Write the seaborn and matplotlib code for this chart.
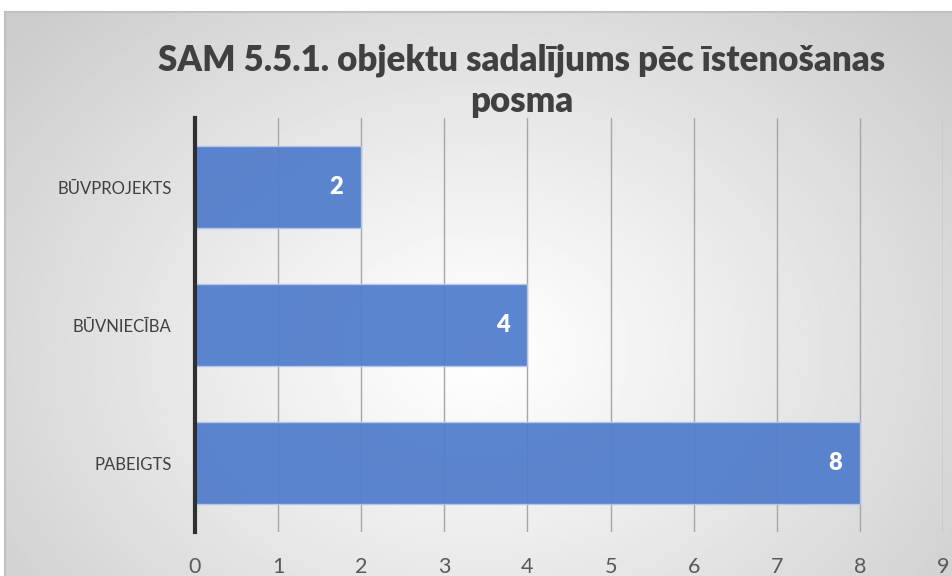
import numpy as np
import seaborn as sns
import matplotlib.pyplot as plt

# chart data
categories = ['BŪVPROJEKTS', 'BŪVNIECĪBA', 'PABEIGTS']
values = [2, 4, 8]
x_ticks = list(range(0, 10))
title = 'SAM 5.5.1. objektu sadalījums pēc īstenošanas\nposma'

sns.set_style('white')
plt.rcParams['font.family'] = ['Lato', 'DejaVu Sans']

W, H = 952, 576
fig = plt.figure(figsize=(W / 100, H / 100), dpi=100)

# radial gradient background (chart area)
bg = fig.add_axes([5 / W, 0, (W - 5) / W, (H - 12) / H], zorder=0)
yy, xx = np.mgrid[0:1:300j, 0:1:500j]
r = np.sqrt(((xx - 0.5) / 0.5) ** 2 + ((yy - 0.4) / 0.65) ** 2)
shade = 1.0 - 0.2 * np.clip(r / 1.3, 0, 1) ** 1.1
bg.imshow(shade, cmap='gray', vmin=0, vmax=1, aspect='auto', extent=[0, 1, 0, 1], origin='lower')
bg.set_xticks([])
bg.set_yticks([])
for side in ['right', 'bottom']:
    bg.spines[side].set_visible(False)
for side in ['top', 'left']:
    bg.spines[side].set_color('#c0c0c0')
    bg.spines[side].set_linewidth(1.5)

ax = fig.add_axes([195 / W, 1 - 532 / H, (943 - 195) / W, (532 - 118) / H], zorder=1)
ax.patch.set_alpha(0)

sns.barplot(x=values, y=categories, orient='h', color='#4f7ccb', width=0.6,
            edgecolor='#b4c8ea', linewidth=1, alpha=0.93, saturation=1, ax=ax, zorder=2)

ax.set_xlim(0, 9)
ax.set_ylim(2.5, -0.5)
ax.set_xticks(x_ticks)
ax.grid(axis='x', color='#a6a6a6', linewidth=1, zorder=1)
ax.grid(axis='y', visible=False)
ax.set_axisbelow(True)
ax.set_xlabel('')
ax.set_ylabel('')

for side in ['top', 'right', 'bottom']:
    ax.spines[side].set_visible(False)
ax.spines['left'].set_color('#303030')
ax.spines['left'].set_linewidth(3)
ax.spines['left'].set_zorder(5)

ax.tick_params(axis='x', length=0, pad=18, labelsize=15.5, labelcolor='#595959')
ax.tick_params(axis='y', length=0, pad=17, labelsize=12, labelcolor='#404040')

for i, v in enumerate(values):
    ax.annotate(str(v), xy=(v, i), xytext=(-13, 0), textcoords='offset points',
                ha='right', va='center', color='white', fontsize=17, fontweight='heavy')

fig.text(522 / W, 1 - 81 / H, title, ha='center', va='center', fontsize=25,
         fontweight='heavy', color='#404040', linespacing=1.3)

fig.savefig('out.png', dpi=100)
plt.close(fig)
